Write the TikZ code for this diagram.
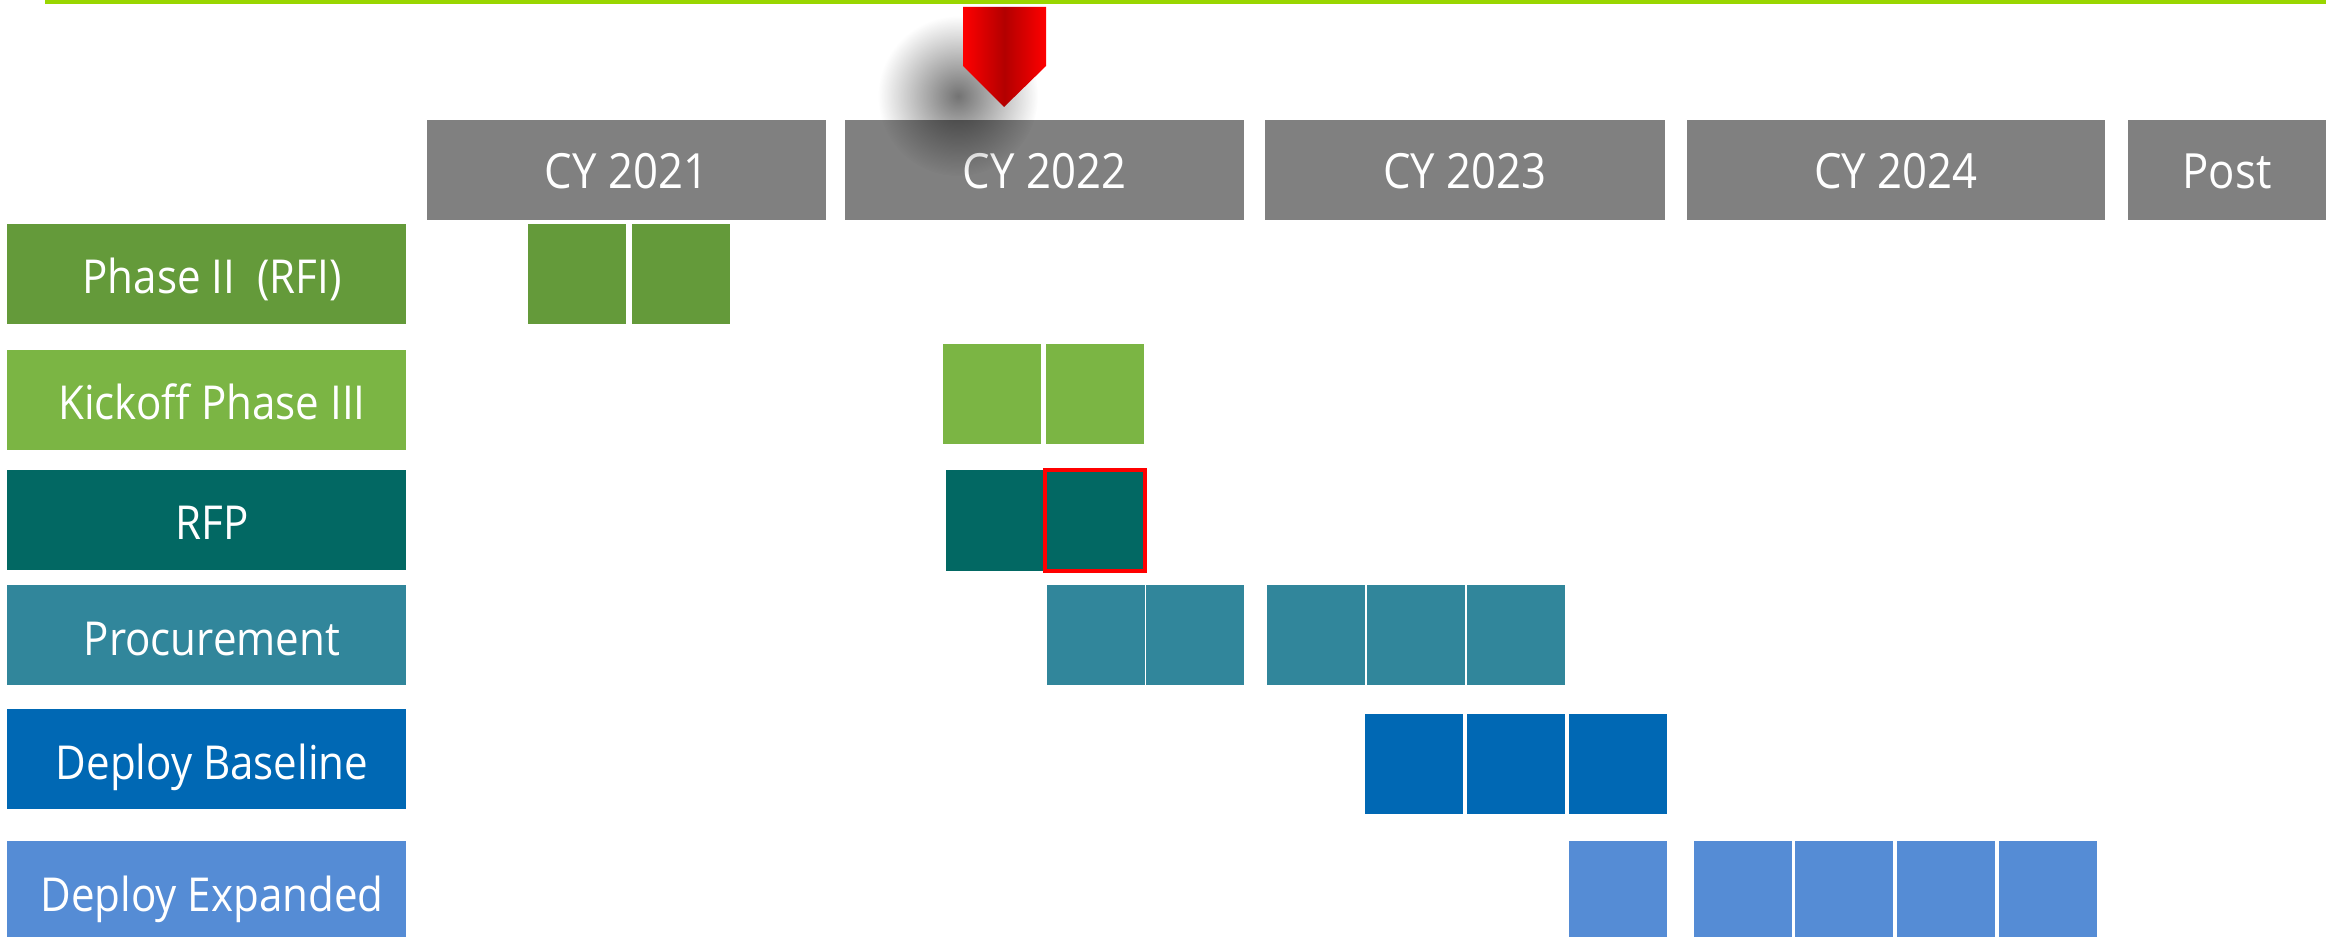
\documentclass[tikz,border=0pt]{standalone}
\usepackage{fontspec}
\setmainfont{Open Sans}[FakeStretch=0.9]
\usetikzlibrary{fadings}

\definecolor{topgreen}{RGB}{153,214,0}
\definecolor{hdrgray}{RGB}{128,128,128}
\definecolor{phasetwo}{RGB}{100,154,58}
\definecolor{kickoff}{RGB}{123,181,68}
\definecolor{rfpteal}{RGB}{2,104,99}
\definecolor{procure}{RGB}{49,134,155}
\definecolor{dbase}{RGB}{0,104,180}
\definecolor{dexpand}{RGB}{85,140,213}
\definecolor{markred}{RGB}{255,0,0}
\tikzfading[name=softdot, inner color=transparent!0, outer color=transparent!100]

\begin{document}
\begin{tikzpicture}[x=0.01cm, y=-0.01cm,
    txt/.style={text=white, font=\fontsize{13.3}{15}\selectfont, inner sep=0pt, anchor=base},
    hdr/.style={txt, font=\fontsize{13.8}{15}\selectfont},
    qbox/.style={fill=#1}]
    \useasboundingbox (0,0) rectangle (2333,937);

    % Top rule
    \fill[topgreen] (45,0) rectangle (2326,4.5);

    % Year headers
    \foreach \a/\b/\name/\lbl in {427/826/cyA/CY 2021, 845/1244/cyB/CY 2022,
        1265/1665/cyC/CY 2023, 1687/2105/cyD/CY 2024, 2128/2326/post/Post} {
        \fill[hdrgray] (\a,120) rectangle (\b,220);
        \node[hdr] (\name) at ({(\a+\b)/2},189) {\lbl};
    }

    % Marker - soft shadow, then red arrow
    \fill[black, fill opacity=0.55, path fading=softdot] (958,96) circle (0.8cm);
    \shade[left color=markred, right color=markred, middle color=markred!70!black]
        (963,7) -- (1046,7) -- (1046,66) -- (1004,107) -- (963,66) -- cycle;

    % Row labels
    \foreach \t/\col/\name/\lbl in {224/phasetwo/lblA/Phase II~~(RFI),
        350/kickoff/lblB/Kickoff Phase III, 470/rfpteal/lblC/RFP,
        585/procure/lblD/Procurement, 709/dbase/lblE/Deploy Baseline,
        841/dexpand/lblF/Deploy Expanded} {
        \fill[\col] (7,\t) rectangle (406,\t+100);
        \node[txt] (\name) at (212,\t+70) {\lbl};
    }

    % Phase II - 2021 Q2, Q3
    \foreach \x in {528,632}
        \fill[qbox=phasetwo] (\x,224) rectangle +(98,100);

    % Kickoff Phase III - 2022 Q2, Q3
    \foreach \x in {943,1046}
        \fill[qbox=kickoff] (\x,344) rectangle +(98,100);

    % RFP - 2022 Q2, Q3 (Q3 framed)
    \fill[qbox=rfpteal] (946,470) rectangle (1145,571);
    \draw[markred, line width=0.04cm] (1045,470) rectangle (1145,571);

    % Procurement - 2022 Q3 to 2023 Q3
    \foreach \x in {1047,1146,1267,1367,1467}
        \fill[qbox=procure] (\x,585) rectangle +(98,100);

    % Deploy Baseline - 2023 Q2 to Q4
    \foreach \x in {1365,1467,1569}
        \fill[qbox=dbase] (\x,714) rectangle +(98,100);

    % Deploy Expanded - 2023 Q4, 2024 Q1 to Q4
    \foreach \x in {1569,1694,1795,1897,1999}
        \fill[qbox=dexpand] (\x,841) rectangle +(98,100);
\end{tikzpicture}
\end{document}
